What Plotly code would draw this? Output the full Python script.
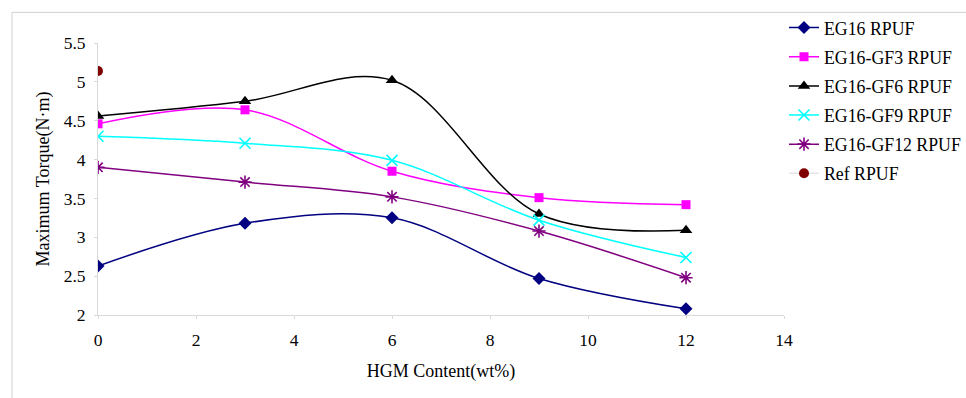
import plotly.graph_objects as go

hgm = [0, 3, 6, 9, 12]
eg16 = [2.63, 3.18, 3.25, 2.47, 2.08]
eg16_gf3 = [4.46, 4.64, 3.85, 3.51, 3.42]
eg16_gf6 = [4.56, 4.75, 5.02, 3.30, 3.09]
eg16_gf9 = [4.30, 4.21, 3.99, 3.22, 2.74]
eg16_gf12 = [3.90, 3.71, 3.52, 3.08, 2.48]
ref_x = [0]
ref_y = [5.14]

series = [
    ("EG16 RPUF", eg16, "#000080", "diamond", 10),
    ("EG16-GF3 RPUF", eg16_gf3, "#ff00ff", "square", 9),
    ("EG16-GF6 RPUF", eg16_gf6, "#000000", "triangle-up", 11),
    ("EG16-GF9 RPUF", eg16_gf9, "#00ffff", "x-thin", 11),
    ("EG16-GF12 RPUF", eg16_gf12, "#800080", "asterisk", 11),
]

FONT = "Liberation Serif"

fig = go.Figure()
for name, ys, col, sym, size in series:
    thin = sym in ("x-thin", "asterisk")
    fig.add_trace(go.Scatter(
        x=hgm, y=ys, name=name, legendgroup=name, mode="lines+markers",
        line=dict(color=col, width=1.5, shape="spline", smoothing=1.0),
        marker=dict(symbol=sym, size=size, color=col,
                    line=dict(color=col, width=1.6 if thin else 0)),
    ))
fig.add_trace(go.Scatter(
    x=ref_x, y=ref_y, name="Ref RPUF", legendgroup="Ref RPUF", mode="lines+markers",
    line=dict(color="#e6e6e6", width=1.5),
    marker=dict(symbol="circle", size=10, color="#800000"),
))

axis_common = dict(
    showgrid=False, zeroline=False, showline=True, linecolor="#d9d9d9",
    linewidth=1, ticks="outside", ticklen=3, tickcolor="#d9d9d9",
    tickfont=dict(family=FONT, size=17.5, color="#000000"),
)
fig.update_xaxes(range=[0, 14], dtick=2, tick0=0, ticklabelstandoff=6, **axis_common,
                 title=dict(text="HGM Content(wt%)", standoff=15,
                            font=dict(family=FONT, size=18, color="#000000")))
fig.update_yaxes(range=[2, 5.5], dtick=0.5, tick0=2, ticklabelstandoff=5, **axis_common,
                 title=dict(text="Maximum Torque(N·m)", standoff=9,
                            font=dict(family=FONT, size=18, color="#000000")))

fig.add_shape(type="rect", xref="paper", yref="paper",
              x0=-0.1254, x1=1.3, y0=-0.35, y1=1.1127,
              line=dict(color="#d0d0d0", width=1), fillcolor="rgba(0,0,0,0)", layer="below")

fig.update_layout(
    width=966, height=398,
    margin=dict(l=98, r=182, t=43, b=83, autoexpand=False),
    plot_bgcolor="white", paper_bgcolor="white",
    font=dict(family=FONT, size=17, color="#000000"),
    legend=dict(x=1.0, xanchor="left", y=1.123, yanchor="top",
                font=dict(family=FONT, size=17.8, color="#000000"),
                bgcolor="rgba(0,0,0,0)", tracegroupgap=3),
    showlegend=True,
)

fig.write_html("out.html")
